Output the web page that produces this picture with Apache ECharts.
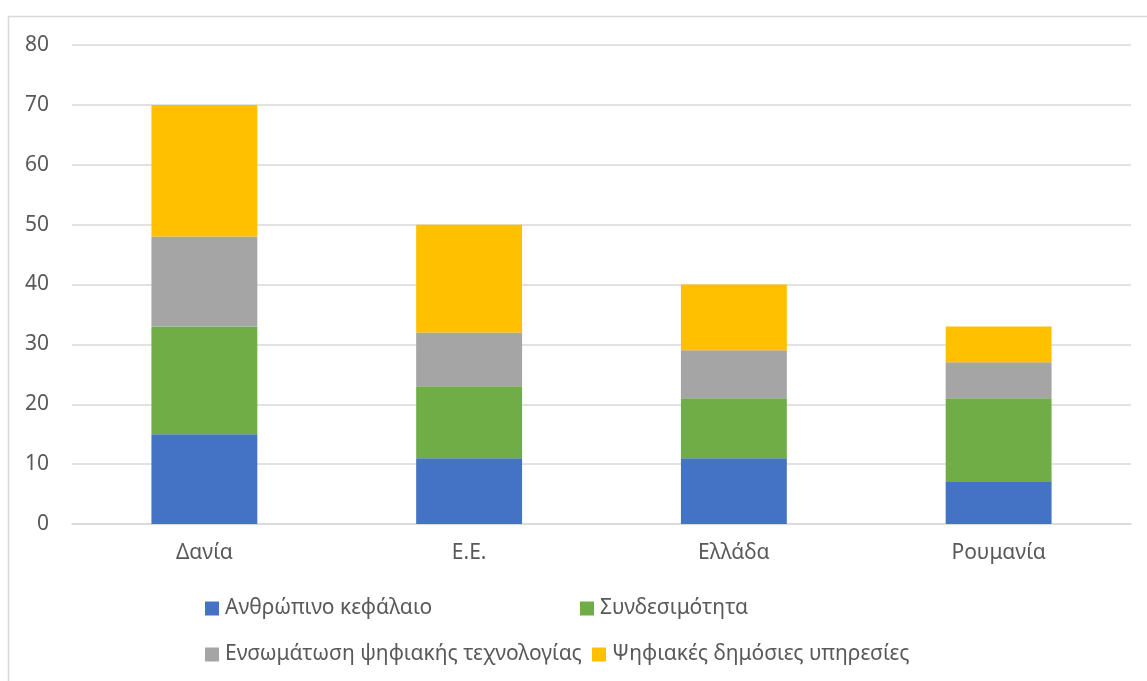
<!DOCTYPE html>
<html>
<head>
<meta charset="utf-8">
<script src="https://cdn.jsdelivr.net/npm/echarts@6/dist/echarts.min.js"></script>
<style>html,body{margin:0;padding:0;background:#fff;}#c{width:1147px;height:681px;}</style>
</head>
<body>
<div id="c"></div>
<script>
const categories = ['Δανία', 'Ε.Ε.', 'Ελλάδα', 'Ρουμανία'];
const seriesNames = ['Ανθρώπινο κεφάλαιο', 'Συνδεσιμότητα', 'Ενσωμάτωση ψηφιακής τεχνολογίας', 'Ψηφιακές δημόσιες υπηρεσίες'];
const humanCapital = [15, 11, 11, 7];
const connectivity = [18, 12, 10, 14];
const integration = [15, 9, 8, 6];
const publicServices = [22, 18, 11, 6];
const colors = ['#4472C4', '#70AD47', '#A5A5A5', '#FFC000'];
const values = [humanCapital, connectivity, integration, publicServices];

const FONT = '"Noto Sans", sans-serif';
const TXT = '#595959';

const legendPos = [
  {left: 205, top: 598},
  {left: 580, top: 598},
  {left: 205, top: 644},
  {left: 592, top: 644}
];

const chart = echarts.init(document.getElementById('c'), null, {renderer: 'canvas'});
chart.setOption({
  backgroundColor: '#fff',
  animation: false,
  textStyle: {fontFamily: FONT},
  graphic: [{
    type: 'rect',
    shape: {x: 8.5, y: 16.5, width: 1300, height: 800},
    style: {fill: 'none', stroke: '#d9d9d9', lineWidth: 1.5},
    silent: true,
    z: -1
  }],
  grid: {left: 72, right: 16, top: 45, bottom: 157, containLabel: false},
  legend: legendPos.map((p, i) => ({
    data: [seriesNames[i]],
    left: p.left,
    top: p.top,
    padding: 0,
    itemWidth: 14,
    itemHeight: 14,
    itemGap: 5,
    icon: 'rect',
    selectedMode: false,
    textStyle: {fontFamily: FONT, fontSize: 21, color: TXT, padding: [0, 0, 0, 1]}
  })),
  xAxis: {
    type: 'category',
    data: categories,
    axisLine: {lineStyle: {color: '#d9d9d9', width: 1.5}},
    axisTick: {show: false},
    axisLabel: {fontFamily: FONT, fontSize: 21, color: TXT, margin: 19}
  },
  yAxis: {
    type: 'value',
    min: 0,
    max: 80,
    interval: 10,
    axisLine: {show: false},
    axisTick: {show: false},
    splitLine: {lineStyle: {color: '#d9d9d9', width: 1.5}},
    axisLabel: {fontFamily: FONT, fontSize: 21, color: TXT, margin: 23}
  },
  series: seriesNames.map((name, i) => ({
    name: name,
    type: 'bar',
    stack: 'total',
    barWidth: '40%',
    data: values[i],
    itemStyle: {color: colors[i]}
  }))
});
</script>
</body>
</html>
